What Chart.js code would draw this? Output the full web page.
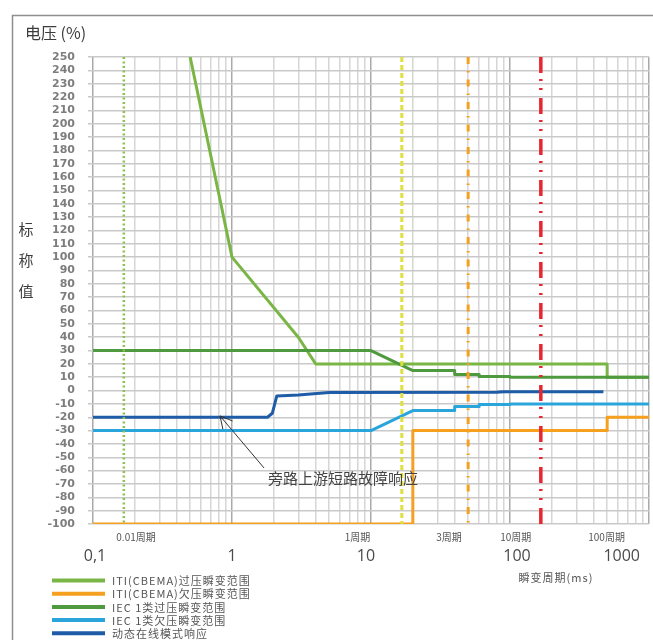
<!DOCTYPE html>
<html>
<head>
<meta charset="utf-8">
<script src="https://cdn.jsdelivr.net/npm/chart.js@4.4.1/dist/chart.umd.min.js"></script>
<style>
  html, body { margin: 0; padding: 0; background: #fff; }
  #wrap { position: relative; width: 653px; height: 640px; }
</style>
</head>
<body>
<div id="wrap"><canvas id="c" width="653" height="640"></canvas></div>
<script>
// 60 Hz mains: one cycle lasts 1000/60 ms
const CYCLE_MS = 1000 / 60;

// x axis (ms, logarithmic) labels
const msTickValues = [0.1, 1, 10, 100, 1000];
const msTickLabels = ['0,1', '1', '10', '100', '1000'];

// cycle markers and their captions
const cycleMarks = [0.01, 1, 3, 10];
const cycleCaptions = ['0.01周期', '1周期', '3周期', '10周期', '100周期'];

// ITI (CBEMA) over-voltage envelope
const itiOverMs = [0.5, 1, 3, 4, 500, 500, 1000];
const itiOverPct = [250, 100, 40, 20, 20, 10, 10];

// ITI (CBEMA) under-voltage envelope
const itiUnderMs = [0.1, 20, 20, 500, 500, 1000];
const itiUnderPct = [-100, -100, -30, -30, -20, -20];

// IEC class 1 over-voltage envelope
const iecOverMs = [0.1, 10, 20, 40, 40, 60, 60, 100, 100, 1000];
const iecOverPct = [30, 30, 15, 15, 12, 12, 10.5, 10.5, 10, 10];

// IEC class 1 under-voltage envelope
const iecUnderMs = [0.1, 10, 20, 40, 40, 60, 60, 100, 100, 1000];
const iecUnderPct = [-30, -30, -15, -15, -12, -12, -10.5, -10.5, -10, -10];

// dynamic online-mode response
const dynMs = [0.1, 1.8, 1.95, 2.1, 3, 5, 80, 90, 470];
const dynPct = [-20, -20, -17, -4, -3.3, -1.5, -1.3, -0.8, -0.8];

const legendLabels = [
  'ITI(CBEMA)过压瞬变范围',
  'ITI(CBEMA)欠压瞬变范围',
  'IEC 1类过压瞬变范围',
  'IEC 1类欠压瞬变范围',
  '动态在线模式响应'
];
const seriesColors = ['#79b646', '#f5a01f', '#4f9a3e', '#2aa5dc', '#1f5ca8'];

const annotationText = '旁路上游短路故障响应';
const annotationTip = { ms: 0.82, pct: -19 };
const annotationTail = { ms: 1.7, pct: -58 };

const toPoints = (xs, ys) => xs.map((x, i) => ({ x: x, y: ys[i] }));
const vline = ms => [{ x: ms, y: 250 }, { x: ms, y: -100 }];

const cycleStyles = [
  { color: '#8cc152', width: 2.5, dash: [2, 2.5] },
  { color: '#dfe03c', width: 3, dash: [5, 3] },
  { color: '#f5a01f', width: 3, dash: [7, 7, 1.5, 7] },
  { color: '#e8262d', width: 3.5, dash: [16, 6, 2, 7, 2, 8] }
];

// first dataset is drawn on top
const datasets = [];
cycleMarks.forEach((c, i) => {
  const s = cycleStyles[i];
  datasets.push({
    data: vline(c * CYCLE_MS),
    borderColor: s.color, borderWidth: s.width, borderDash: s.dash,
    borderCapStyle: 'butt'
  });
});
const series = [
  [dynMs, dynPct, 4],
  [iecOverMs, iecOverPct, 2],
  [iecUnderMs, iecUnderPct, 3],
  [itiOverMs, itiOverPct, 0],
  [itiUnderMs, itiUnderPct, 1]
];
series.forEach(s => {
  datasets.push({
    data: toPoints(s[0], s[1]),
    borderColor: seriesColors[s[2]],
    borderWidth: 3,
    borderJoinStyle: 'round'
  });
});

const isDecade = v => Math.abs(Math.log10(v) - Math.round(Math.log10(v))) < 1e-6;

const decorations = {
  id: 'decorations',
  afterDraw(chart) {
    const ctx = chart.ctx;
    const xs = chart.scales.x, ys = chart.scales.y;
    ctx.save();

    // outer frame
    ctx.strokeStyle = '#8e8e8e';
    ctx.lineWidth = 1.5;
    ctx.beginPath();
    ctx.moveTo(12.5, 640);
    ctx.lineTo(12.5, 15.5);
    ctx.lineTo(653, 15.5);
    ctx.stroke();

    // y axis title
    ctx.fillStyle = '#3c3c3c';
    ctx.font = '16px "Noto Sans CJK SC"';
    ctx.textBaseline = 'middle';
    ctx.textAlign = 'left';
    ctx.fillText('电压 (%)', 25, 33);
    ctx.font = '15px "Noto Sans CJK SC"';
    ctx.textAlign = 'center';
    ['标', '称', '值'].forEach((ch, i) => ctx.fillText(ch, 26, 229 + i * 31));

    // ms labels
    const nudge = { '0,1': 2, '10': -5, '100': 7 };
    ctx.font = '16px "Open Sans"';
    ctx.fillStyle = '#4a4a4a';
    msTickValues.forEach((v, i) => {
      const t = msTickLabels[i];
      const w = ctx.measureText(t).width;
      let cx = xs.getPixelForValue(v) + (nudge[t] || 0);
      cx = Math.min(cx, 640 - w / 2);
      ctx.fillText(t, cx, 556);
    });

    // cycle captions (anchor positions along the time axis, ms)
    const captionAnchorsMs = [0.204, 8.0, 36.4, 110, 495];
    ctx.font = '10px "Noto Sans CJK SC"';
    ctx.fillStyle = '#555';
    cycleCaptions.forEach((t, i) => {
      ctx.fillText(t, xs.getPixelForValue(captionAnchorsMs[i]), 537);
    });

    // x axis title
    ctx.font = '11px "Noto Sans CJK SC"';
    ctx.letterSpacing = '1px';
    ctx.fillStyle = '#555';
    ctx.fillText('瞬变周期(ms)', 556, 578);

    // legend
    ctx.textAlign = 'left';
    legendLabels.forEach((t, i) => {
      const y = 580.5 + i * 13.2;
      ctx.strokeStyle = seriesColors[i];
      ctx.lineWidth = 4;
      ctx.beginPath();
      ctx.moveTo(52, y);
      ctx.lineTo(105, y);
      ctx.stroke();
      ctx.fillStyle = '#555';
      ctx.fillText(t, 112, y + 0.5);
    });
    ctx.letterSpacing = '0px';

    // annotation with open arrow head
    const tx = xs.getPixelForValue(annotationTip.ms), ty = ys.getPixelForValue(annotationTip.pct);
    const sx = xs.getPixelForValue(annotationTail.ms), sy = ys.getPixelForValue(annotationTail.pct);
    ctx.strokeStyle = '#333';
    ctx.lineWidth = 1;
    ctx.beginPath();
    ctx.moveTo(sx, sy);
    ctx.lineTo(tx, ty);
    const ang = Math.atan2(sy - ty, sx - tx);
    const hl = 13.5, spread = 28 * Math.PI / 180;
    ctx.moveTo(tx + hl * Math.cos(ang - spread), ty + hl * Math.sin(ang - spread));
    ctx.lineTo(tx, ty);
    ctx.lineTo(tx + hl * Math.cos(ang + spread), ty + hl * Math.sin(ang + spread));
    ctx.stroke();
    ctx.font = '15px "Noto Sans CJK SC"';
    ctx.fillStyle = '#444';
    ctx.textBaseline = 'middle';
    ctx.fillText(annotationText, sx + 4, ys.getPixelForValue(-66));

    ctx.restore();
  }
};

new Chart(document.getElementById('c'), {
  type: 'line',
  data: { datasets: datasets },
  options: {
    responsive: false,
    animation: false,
    elements: { point: { radius: 0 }, line: { tension: 0 } },
    layout: { padding: { top: 57, right: 4, left: 0, bottom: 0 } },
    plugins: { legend: { display: false }, tooltip: { enabled: false } },
    scales: {
      x: {
        type: 'logarithmic',
        min: 0.1,
        max: 1000,
        afterBuildTicks(scale) {
          const t = [];
          [0.1, 1, 10, 100].forEach(d => {
            for (let m = 1; m <= 9; m++) t.push({ value: d * m });
          });
          t.push({ value: 1000 });
          scale.ticks = t;
        },
        afterFit(scale) { scale.height = 116; },
        ticks: { display: false, autoSkip: false },
        border: { display: false },
        grid: {
          drawTicks: false,
          lineWidth: 1.5,
          color: c => (c.tick && isDecade(c.tick.value)) ? '#a9a9a9' : '#d6d6d6'
        }
      },
      y: {
        min: -100,
        max: 250,
        afterFit(scale) { scale.width = 93; },
        ticks: {
          stepSize: 10,
          autoSkip: false,
          padding: 13,
          color: '#7d7d7d',
          font: { family: 'DejaVu Sans', weight: 'bold', size: 11 }
        },
        border: { display: false },
        grid: { tickLength: 5, lineWidth: 1.5, color: '#c9c9c9' }
      }
    }
  },
  plugins: [decorations]
});
</script>
</body>
</html>
